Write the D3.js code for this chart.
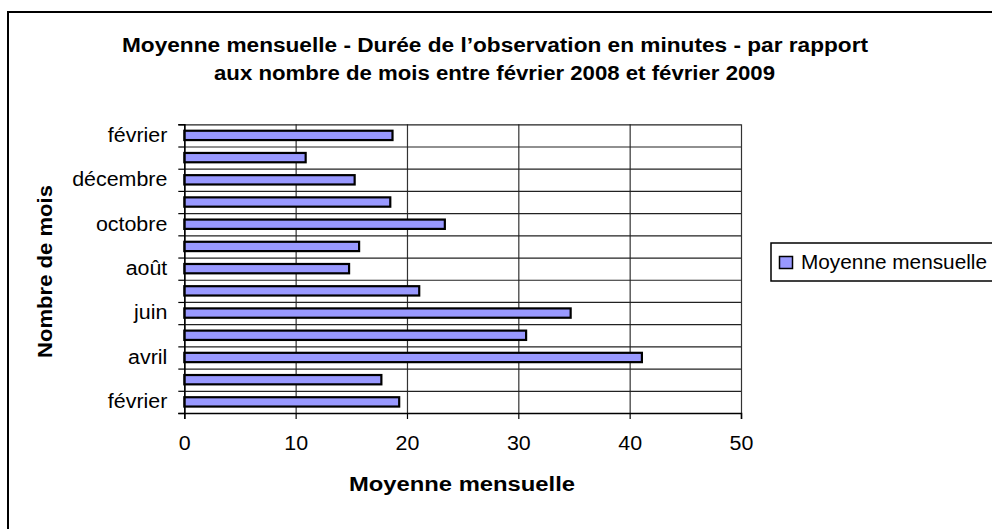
<!DOCTYPE html>
<html><head><meta charset="utf-8">
<script src="https://cdn.jsdelivr.net/npm/d3@7/dist/d3.min.js"></script>
<style>body{margin:0;background:#fff}svg{display:block;font-family:"Liberation Sans",Arial,sans-serif}</style>
</head><body><svg id="c" width="992" height="529"></svg>
<script>
const categories = ["février 2008","mars","avril","mai","juin","juillet","août","septembre","octobre","novembre","décembre","janvier","février 2009"];
const tickLabels = ["février","","avril","","juin","","août","","octobre","","décembre","","février"];
const values = [19.3, 17.7, 41.1, 30.7, 34.7, 21.1, 14.8, 15.7, 23.4, 18.5, 15.3, 10.9, 18.7];
const xTicks = [0, 10, 20, 30, 40, 50];
const titleLines = ["Moyenne mensuelle - Durée de l’observation en minutes - par rapport", "aux nombre de mois entre février 2008 et février 2009"];
const xTitle = "Moyenne mensuelle";
const yTitle = "Nombre de mois";
const seriesName = "Moyenne mensuelle";

const svg = d3.select("#c");
const L = 184.3, R = 741, T = 124.3, B = 413;
const SX = 1.07;

function stretch(sel) {
  sel.each(function () {
    const w = this.getComputedTextLength();
    if (w > 0) d3.select(this).attr("textLength", w * SX).attr("lengthAdjust", "spacingAndGlyphs");
  });
}

// outer border
svg.append("rect").attr("x", 8).attr("y", 12).attr("width", 1000).attr("height", 600)
  .attr("fill", "#fff").attr("stroke", "#000").attr("stroke-width", 2);

const x = d3.scaleLinear().domain([0, 50]).range([L, R]);
const yb = d3.scaleBand().domain(categories.slice().reverse()).range([T, B]).padding(0);
const yl = d3.scaleLinear().domain([0, categories.length]).range([B, T]);

// vertical grid
svg.append("g").attr("transform", `translate(0,${B})`)
  .call(d3.axisBottom(x).tickValues(xTicks).tickSize(-(B - T)).tickFormat(""))
  .call(g => g.select(".domain").remove())
  .selectAll("line").attr("stroke", "#333").attr("stroke-width", 1.2);

// horizontal grid
svg.append("g").attr("transform", `translate(${L},0)`)
  .call(d3.axisLeft(yl).tickValues(d3.range(0, categories.length + 1)).tickSize(-(R - L)).tickFormat(""))
  .call(g => g.select(".domain").remove())
  .selectAll("line").attr("stroke", "#222").attr("stroke-width", 1.2);

// bars
const bh = yb.bandwidth() * 0.42;
svg.append("g").selectAll("rect").data(categories).join("rect")
  .attr("x", x(0))
  .attr("y", (d) => yb(d) + (yb.bandwidth() - bh) / 2)
  .attr("width", (d, i) => x(values[i]) - x(0))
  .attr("height", bh)
  .attr("fill", "#9999FF").attr("stroke", "#000").attr("stroke-width", 2.2);

// x axis
const xa = svg.append("g").attr("transform", `translate(0,${B})`)
  .call(d3.axisBottom(x).tickValues(xTicks).tickSize(6).tickPadding(17).tickFormat(d3.format("d")));
xa.select(".domain").attr("stroke", "#000").attr("stroke-width", 1.5);
xa.selectAll("line").attr("stroke", "#000").attr("stroke-width", 1.2);
xa.selectAll("text").attr("font-size", 20).attr("fill", "#000").attr("font-family", "Liberation Sans, Arial, sans-serif");
stretch(xa.selectAll("text"));

// y axis ticks at boundaries
const ya = svg.append("g").attr("transform", `translate(${L},0)`)
  .call(d3.axisLeft(yl).tickValues(d3.range(0, categories.length + 1)).tickSize(6).tickFormat(""));
ya.select(".domain").attr("stroke", "#000").attr("stroke-width", 1.5);
ya.selectAll("line").attr("stroke", "#000").attr("stroke-width", 1.2);

// y labels
const ylab = svg.append("g").attr("transform", `translate(${L},0)`)
  .call(d3.axisLeft(yb).tickSize(0).tickPadding(17).tickFormat(d => tickLabels[categories.indexOf(d)]));
ylab.select(".domain").remove();
ylab.selectAll("text").attr("font-size", 20).attr("fill", "#000").attr("font-family", "Liberation Sans, Arial, sans-serif");
stretch(ylab.selectAll("text"));

// titles
svg.append("text").attr("x", 495).attr("y", 52).attr("text-anchor", "middle")
  .attr("font-weight", "bold").attr("font-size", 20)
  .attr("textLength", 746).attr("lengthAdjust", "spacingAndGlyphs").text(titleLines[0]);
svg.append("text").attr("x", 494.5).attr("y", 80).attr("text-anchor", "middle")
  .attr("font-weight", "bold").attr("font-size", 20)
  .attr("textLength", 561).attr("lengthAdjust", "spacingAndGlyphs").text(titleLines[1]);

svg.append("text").attr("x", 462).attr("y", 491).attr("text-anchor", "middle")
  .attr("font-weight", "bold").attr("font-size", 20)
  .attr("textLength", 226).attr("lengthAdjust", "spacingAndGlyphs").text(xTitle);

svg.append("text").attr("transform", "translate(52,271.5) rotate(-90)").attr("text-anchor", "middle")
  .attr("font-weight", "bold").attr("font-size", 20)
  .attr("textLength", 173).attr("lengthAdjust", "spacingAndGlyphs").text(yTitle);

// legend
const lg = svg.append("g");
lg.append("rect").attr("x", 771).attr("y", 243).attr("width", 260).attr("height", 38)
  .attr("fill", "#fff").attr("stroke", "#000").attr("stroke-width", 1.5);
lg.append("rect").attr("x", 779.5).attr("y", 256.5).attr("width", 13).attr("height", 12)
  .attr("fill", "#9999FF").attr("stroke", "#000").attr("stroke-width", 1.5);
lg.append("text").attr("x", 801).attr("y", 269).attr("font-size", 20)
  .attr("textLength", 186).attr("lengthAdjust", "spacingAndGlyphs").text(seriesName);
</script></body></html>
